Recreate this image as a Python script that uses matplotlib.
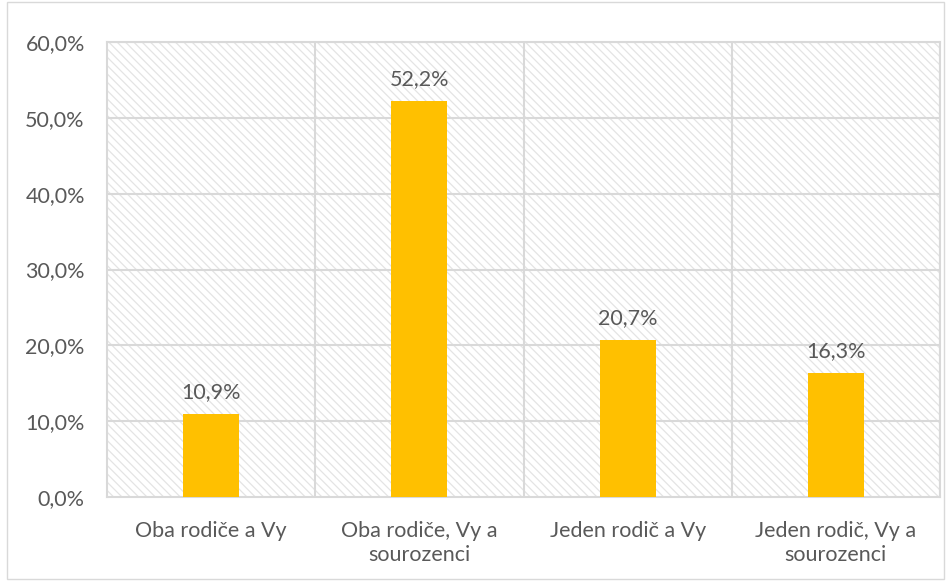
import matplotlib.pyplot as plt
import matplotlib.patches as patches
from matplotlib.ticker import FuncFormatter

categories = ["Oba rodiče a Vy", "Oba rodiče, Vy a\nsourozenci",
              "Jeden rodič a Vy", "Jeden rodič, Vy a\nsourozenci"]
values = [10.9, 52.2, 20.7, 16.3]

plt.rcParams['font.family'] = ['Lato', 'DejaVu Sans']
plt.rcParams['hatch.linewidth'] = 0.9
text_col = '#595959'
grid_col = '#d9d9d9'
fs = 15.5

fig = plt.figure(figsize=(9.52, 5.81), dpi=100)
ax = fig.add_axes([107/952, 1 - 497/581, (940 - 107)/952, (497 - 42)/581])

# hatched background
bg = patches.Rectangle((0, 0), 1, 1, transform=ax.transAxes, facecolor='white',
                       edgecolor='#e4e4e4', hatch='\\\\\\\\', linewidth=0, zorder=0)
ax.add_patch(bg)

x = range(len(categories))
ax.bar(x, values, width=0.27, color='#FFC000', zorder=3)

for xi, v in zip(x, values):
    ax.text(xi, v + 1.6, f"{v:.1f}%".replace('.', ','), ha='center', va='bottom',
            fontsize=fs, color=text_col, zorder=4)

ax.set_xlim(-0.5, len(categories) - 0.5)
ax.set_ylim(0, 60)
ax.set_yticks(range(0, 61, 10))
ax.yaxis.set_major_formatter(FuncFormatter(lambda v, p: f"{v:.1f}%".replace('.', ',')))
ax.set_xticks(list(x))
ax.set_xticklabels(categories, linespacing=1.25)

for yv in range(10, 61, 10):
    ax.axhline(yv, color=grid_col, linewidth=1.5, zorder=1)
for xv in [0.5, 1.5, 2.5, 3.5]:
    ax.axvline(xv, color=grid_col, linewidth=1.5, zorder=1)

for s in ax.spines.values():
    s.set_color(grid_col)
    s.set_linewidth(1.5)

ax.tick_params(axis='both', length=0, labelsize=fs, colors=text_col)
ax.tick_params(axis='x', pad=17)
ax.tick_params(axis='y', pad=16)

fig.patches.append(patches.Rectangle((7/952, 2/581), 937/952, 577/581, transform=fig.transFigure,
                                     fill=False, edgecolor=grid_col, linewidth=1.0))

fig.savefig('out.png', dpi=100)
